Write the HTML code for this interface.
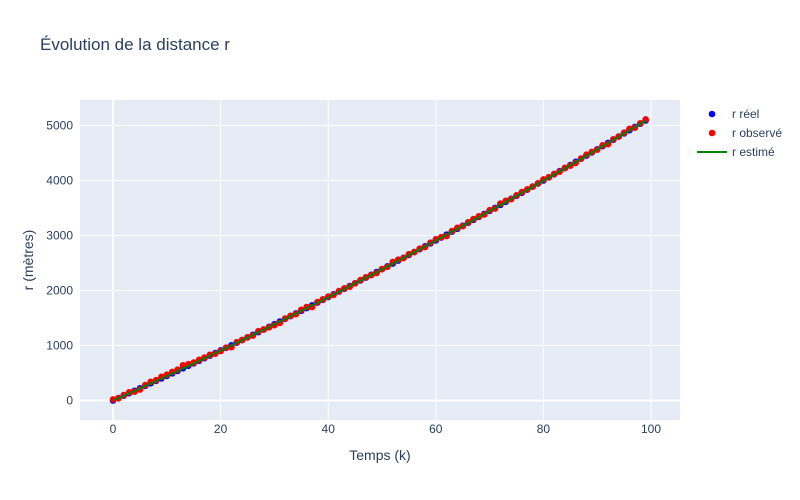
<!DOCTYPE html>
<html><head><meta charset="utf-8"><style>
html,body{margin:0;background:#fff;font-family:"Liberation Sans",sans-serif;overflow:hidden;width:800px;height:500px}
svg{display:block}
svg text{font-family:"Liberation Sans",sans-serif;fill:#2a3f5f}
</style></head><body>
<svg id="c" width="800" height="500"></svg>
<script>
const ks=[];for(let i=0;i<100;i++)ks.push(i);
const reel=[0,44,88,133,177,222,267,312,357,402,448,493,539,585,631,677,723,770,816,863,910,957,1004,1052,1099,1147,1195,1243,1291,1339,1388,1436,1485,1534,1583,1632,1681,1731,1780,1830,1880,1930,1980,2031,2081,2132,2183,2234,2285,2336,2388,2439,2491,2543,2595,2647,2699,2752,2804,2857,2910,2963,3016,3070,3123,3177,3231,3285,3339,3393,3448,3502,3557,3612,3667,3722,3777,3833,3888,3944,4000,4056,4112,4169,4225,4282,4339,4396,4453,4510,4568,4625,4683,4741,4799,4857,4915,4974,5032,5091];
const observe=[20,40,100,150,160,200,280,340,370,430,470,520,560,640,660,690,740,780,830,850,900,960,970,1060,1100,1150,1180,1260,1290,1330,1370,1410,1490,1540,1570,1650,1700,1700,1790,1840,1890,1920,1990,2040,2070,2130,2190,2240,2280,2320,2390,2430,2520,2560,2590,2660,2700,2760,2790,2870,2930,2970,2990,3080,3140,3170,3240,3300,3350,3380,3460,3490,3580,3630,3660,3730,3790,3840,3890,3950,4020,4060,4120,4160,4230,4270,4320,4400,4470,4520,4560,4640,4660,4750,4800,4870,4940,4960,5040,5110];
const estime=[0,44,88,133,177,222,267,312,357,402,448,493,539,585,631,677,723,770,816,863,910,957,1004,1052,1099,1147,1195,1243,1291,1339,1388,1436,1485,1534,1583,1632,1681,1731,1780,1830,1880,1930,1980,2031,2081,2132,2183,2234,2285,2336,2388,2439,2491,2543,2595,2647,2699,2752,2804,2857,2910,2963,3016,3070,3123,3177,3231,3285,3339,3393,3448,3502,3557,3612,3667,3722,3777,3833,3888,3944,4000,4056,4112,4169,4225,4282,4339,4396,4453,4510,4568,4625,4683,4741,4799,4857,4915,4974,5032,5091];
const xTicks=[0,20,40,60,80,100];
const yTicks=[0,1000,2000,3000,4000,5000];
const X=v=>113+v*5.38, Y=v=>400.5-v*0.055;
const NS='http://www.w3.org/2000/svg', svg=document.getElementById('c');
function mk(t,a,p){const e=document.createElementNS(NS,t);for(const k in a)e.setAttribute(k,a[k]);(p||svg).appendChild(e);return e;}
const bg=mk('rect',{x:80,y:100,width:600,height:320,fill:'#e5ecf6'});


xTicks.forEach(t=>{const l=mk('line',{x1:X(t),x2:X(t),y1:100,y2:420,stroke:'#fff','stroke-width':t===0?2:1});


const tx=mk('text',{x:X(t),y:433,'font-size':12,'text-anchor':'middle'});tx.textContent=t;

});
yTicks.forEach(t=>{const l=mk('line',{x1:80,x2:680,y1:Y(t),y2:Y(t),stroke:'#fff','stroke-width':t===0?2:1});


const tx=mk('text',{x:79-6,y:Y(t)+4,'font-size':12,'text-anchor':'end'});tx.textContent=t;

});
ks.forEach((k,i)=>{const c=mk('circle',{cx:X(k),cy:Y(reel[i]),r:3.3,fill:'#0000ff'});

});
ks.forEach((k,i)=>{const c=mk('circle',{cx:X(k),cy:Y(observe[i]),r:3.3,fill:'#ff0000'});

});
const ln=mk('path',{d:ks.map((k,i)=>(i?'L':'M')+X(k)+','+Y(estime[i])).join(''),fill:'none',stroke:'#008000','stroke-width':2});


</script>
<svg style="position:absolute;left:0;top:0" width="800" height="500">
<text x="40" y="50" font-size="17">Évolution de la distance r</text>
<text x="380" y="460" font-size="14" text-anchor="middle">Temps (k)</text>
<text x="33" y="260" font-size="14" text-anchor="middle" transform="rotate(-90 33 260)">r (mètres)</text>
<g><circle cx="712" cy="114" r="3.3" fill="#0000ff"/><text x="732" y="118" font-size="12">r réel</text></g>
<g><circle cx="712" cy="133" r="3.3" fill="#ff0000"/><text x="732" y="137" font-size="12">r observé</text></g>
<g><line x1="697" x2="727" y1="152" y2="152" stroke="#008000" stroke-width="2"/><text x="732" y="156" font-size="12">r estimé</text></g>
</svg>
</body></html>
